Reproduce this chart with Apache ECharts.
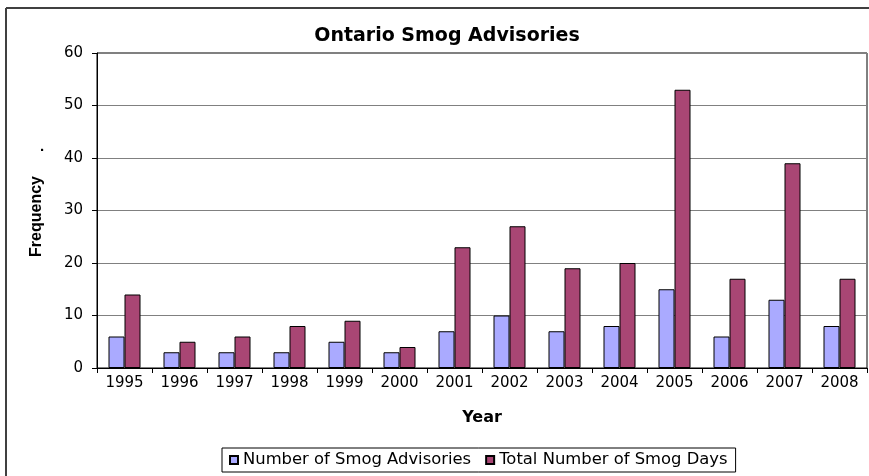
<!DOCTYPE html>
<html>
<head>
<meta charset="utf-8">
<script src="https://cdn.jsdelivr.net/npm/echarts@6/dist/echarts.min.js"></script>
<style>
html,body{margin:0;padding:0;background:#fff;}
#chart{width:869px;height:476px;}
</style>
</head>
<body>
<div id="chart"></div>
<script>
const years = ['1995','1996','1997','1998','1999','2000','2001','2002','2003','2004','2005','2006','2007','2008'];
const advisories = [6,3,3,3,5,3,7,10,7,8,15,6,13,8];
const smogDays = [14,5,6,8,9,4,23,27,19,20,53,17,39,17];
const yTicks = {min:0, max:60, interval:10};

const FONT = '"DejaVu Sans", sans-serif';
const ARIAL = '"Liberation Sans", Arial, sans-serif';
const chart = echarts.init(document.getElementById('chart'));
chart.setOption({
  backgroundColor:'#fff',
  animation:false,
  title:{
    text:'Ontario Smog Advisories',
    left:442, top:22, textAlign:'center',
    textStyle:{fontFamily:FONT, fontSize:19, fontWeight:'bold', color:'#000'}
  },
  legend:{
    left:222, top:448,
    itemWidth:8, itemHeight:8, itemGap:14,
    icon:'rect',
    borderColor:'#000', borderWidth:1, padding:[4,8,4,7],
    textStyle:{fontFamily:FONT, fontSize:16.4, color:'#000'},
    data:['Number of Smog Advisories','Total Number of Smog Days']
  },
  grid:{left:97, right:2, top:53, bottom:108, show:true, borderColor:'#000', borderWidth:1},
  xAxis:{
    type:'category', data:years,
    name:'Year', nameLocation:'middle', nameGap:42,
    nameTextStyle:{fontFamily:FONT, fontSize:16, fontWeight:'bold', color:'#000'},
    axisLine:{lineStyle:{color:'#000', width:1}},
    axisTick:{show:true, length:5, lineStyle:{color:'#000'}},
    axisLabel:{fontFamily:FONT, fontSize:15, color:'#000', margin:8}
  },
  yAxis:{
    type:'value', min:yTicks.min, max:yTicks.max, interval:yTicks.interval,
    name:'Frequency', nameLocation:'middle', nameGap:52, nameRotate:90,
    nameTextStyle:{fontFamily:ARIAL, fontSize:16, fontWeight:'bold', color:'#000', padding:[0,12,0,0]},
    axisLine:{show:true, lineStyle:{color:'#000', width:1}},
    axisTick:{show:true, length:5, lineStyle:{color:'#000'}},
    axisLabel:{fontFamily:FONT, fontSize:15, color:'#000', margin:14},
    splitLine:{lineStyle:{color:'#808080', width:1}}
  },
  graphic:[
    {type:'line', shape:{x1:6, y1:8, x2:869, y2:8}, style:{stroke:'#404040', lineWidth:2}},
    {type:'line', shape:{x1:6, y1:8, x2:6, y2:476}, style:{stroke:'#404040', lineWidth:2}},
    {type:'text', x:40, y:139, style:{text:'.', font:'bold 15px "Liberation Sans", Arial', fill:'#000'}}
  ],
  series:[
    {name:'Number of Smog Advisories', type:'bar', data:advisories, barWidth:16, barGap:'0%',
     itemStyle:{color:'#aaaaff', borderColor:'#000', borderWidth:1}},
    {name:'Total Number of Smog Days', type:'bar', data:smogDays, barWidth:16,
     itemStyle:{color:'#a94674', borderColor:'#000', borderWidth:1}}
  ]
});
</script>
</body>
</html>
